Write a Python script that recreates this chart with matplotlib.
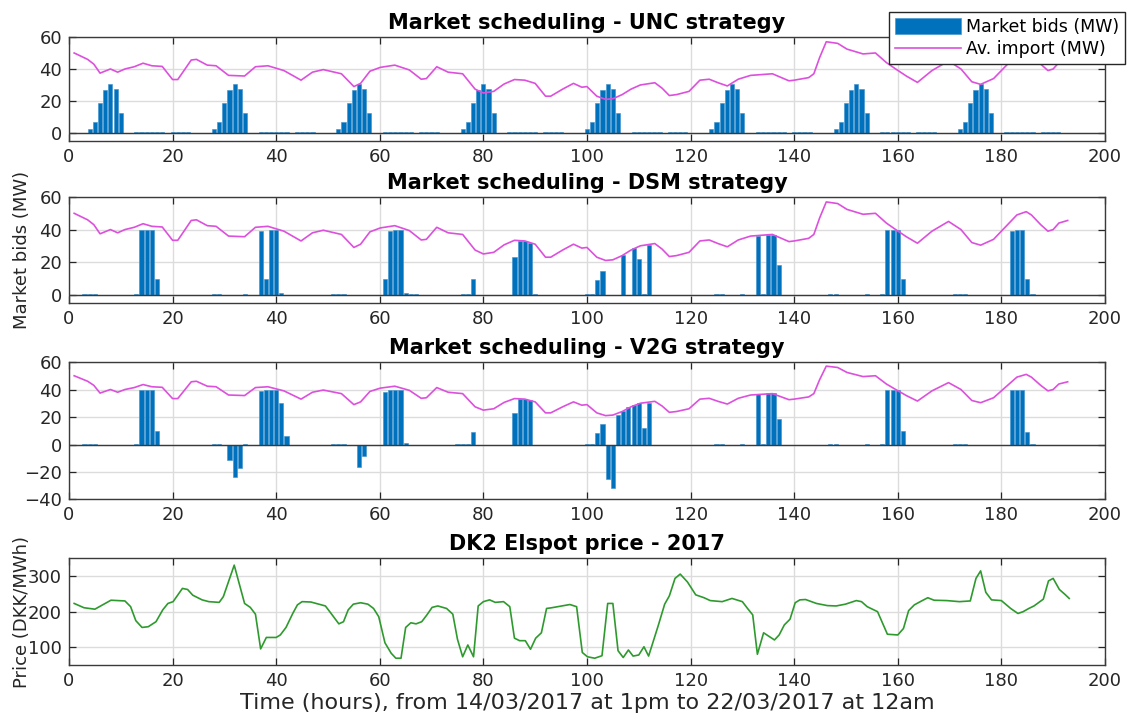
import matplotlib
matplotlib.use("Agg")
import matplotlib.pyplot as plt

# ---- data ------------------------------------------------------------------
# average import line (MW), same in the three scheduling panels
import_hours = [1, 3.6, 4.8, 6, 8, 9.4, 10.8, 12.6, 14.3, 16, 18, 20, 21, 22.2, 23.6,
                24.6, 26.7, 28.4, 30.8, 33.9, 36, 38.4, 41.5, 44.8, 47, 49.1, 52.6, 55,
                56.3, 58.1, 60.1, 62.9, 65.7, 68, 69, 71, 73.2, 76, 78.4, 80, 82, 84, 86,
                88, 90, 92, 93, 95.3, 97.4, 99, 100, 101.9, 103.6, 105, 106.8, 108.5,
                110.3, 113.1, 114.5, 115.9, 117.3, 119.7, 121.8, 123.6, 125.3, 127.1,
                129.2, 131.6, 135.8, 139, 140, 142.8, 143.8, 144.9, 146.2, 148.4, 150.2,
                153.3, 155.7, 157.8, 159.6, 161.7, 163.8, 166.6, 169.8, 172.2, 174.3,
                176, 178.5, 180.9, 183, 184.8, 185.8, 187.6, 189, 190, 191.1, 192.8]
import_mw = [50, 46, 43, 37.4, 40, 38, 40, 41.4, 43.6, 42, 41.6, 33.4, 33.4, 39, 45.6,
             46, 42.4, 42, 36, 35.6, 41.4, 42, 39, 33, 38, 39.6, 37, 29,
             31, 38.6, 41, 42.4, 39.4, 33.6, 34, 41.4, 38, 37, 27.4, 25, 26, 30.6, 33.4,
             33, 31, 23, 23, 27.4, 31, 28.6, 29, 23, 21, 21.4, 24, 27.4,
             30, 31.4, 28, 23.4, 24, 26, 33, 33.6, 31.4, 29.4,
             33.6, 36, 37, 32.6, 33, 34.6, 37, 47, 57, 56, 52.4,
             49.4, 50, 44, 40, 35.5, 31.6, 39, 45, 40, 32,
             30.4, 34, 42, 49, 51, 49, 43, 39, 40, 44, 45.6]

# UNC strategy bids (MW)
unc_hours = [4, 5, 6, 7, 8, 9, 10, 13, 14, 15, 16, 17, 18, 20, 21, 22, 23,
             28, 29, 30, 31, 32, 33, 34, 37, 38, 39, 40, 41, 42, 44, 45, 46, 47,
             52, 53, 54, 55, 56, 57, 58, 61, 62, 63, 64, 65, 66, 68, 69, 70, 71,
             76, 77, 78, 79, 80, 81, 82, 85, 86, 87, 88, 89, 90, 92, 93, 94, 95,
             100, 101, 102, 103, 104, 105, 106, 109, 110, 111, 112, 113, 114, 116, 117, 118, 119,
             124, 125, 126, 127, 128, 129, 130, 133, 134, 135, 136, 137, 138, 140, 141, 142, 143,
             148, 149, 150, 151, 152, 153, 154, 157, 158, 159, 160, 161, 162, 164, 165, 166, 167,
             172, 173, 174, 175, 176, 177, 178, 181, 182, 183, 184, 185, 186, 188, 189, 190, 191]
unc_bids = [2.5, 7, 18.5, 27, 30.5, 27.5, 12.5, 0.6, 0.8, 0.8, 0.7, 0.6, 0.5, 0.6, 0.8, 0.8, 0.6,
            2.5, 7, 18.5, 27, 30.5, 27.5, 12.5, 0.6, 0.8, 0.8, 0.7, 0.6, 0.5, 0.6, 0.8, 0.8, 0.6,
            2.5, 7, 18.5, 27, 30.5, 27.5, 12.5, 0.6, 0.8, 0.8, 0.7, 0.6, 0.5, 0.6, 0.8, 0.8, 0.6,
            2.5, 7, 18.5, 27, 30.5, 27.5, 12.5, 0.6, 0.8, 0.8, 0.7, 0.6, 0.5, 0.6, 0.8, 0.8, 0.6,
            2.5, 7, 18.5, 27, 30.5, 27.5, 12.5, 0.6, 0.8, 0.8, 0.7, 0.6, 0.5, 0.6, 0.8, 0.8, 0.6,
            2.5, 7, 18.5, 27, 30.5, 27.5, 12.5, 0.6, 0.8, 0.8, 0.7, 0.6, 0.5, 0.6, 0.8, 0.8, 0.6,
            2.5, 7, 18.5, 27, 30.5, 27.5, 12.5, 0.6, 0.8, 0.8, 0.7, 0.6, 0.5, 0.6, 0.8, 0.8, 0.6,
            2.5, 7, 18.5, 27, 30.5, 27.5, 12.5, 0.6, 0.8, 0.8, 0.7, 0.6, 0.5, 0.6, 0.8, 0.8, 0.6]

# DSM strategy bids (MW)
dsm_hours = [3, 4, 5, 13, 14, 15, 16, 17, 28, 29, 34, 37, 38, 39, 40, 41, 51, 52, 53,
             61, 62, 63, 64, 65, 66, 67, 76, 77, 78, 86, 87, 88, 89, 90,
             100, 101, 102, 103, 107, 109, 110, 111, 112, 125, 126, 130,
             133, 134, 135, 136, 137, 147, 148, 154, 157, 158, 159, 160, 161,
             171, 172, 173, 182, 183, 184, 185, 186]
dsm_bids = [0.6, 0.6, 0.6, 0.3, 40, 40, 39.5, 9.7, 0.6, 0.6, 0.5, 39, 9.7, 40, 39.5, 0.8, 0.6, 0.6, 0.5,
            9.3, 39, 40, 40, 0.8, 0.3, 0.3, 0.4, 0.6, 9.3, 23, 33, 33, 32, 0.3,
            0.5, 0.5, 8.7, 14.8, 24.5, 28.9, 21.6, 0.6, 30.7, 0.5, 0.5, 0.4,
            36, 0.6, 36.7, 36.7, 18, 0.5, 0.5, 0.4, 0.4, 40, 40, 39.5, 9.7,
            0.5, 0.6, 0.5, 39, 40, 40, 9.7, 0.6]

# V2G strategy bids (MW), negative = selling back
v2g_hours = [3, 4, 5, 13, 14, 15, 16, 17, 28, 29, 31, 32, 33, 34,
             37, 38, 39, 40, 41, 42, 51, 52, 53, 56, 57,
             61, 62, 63, 64, 65, 75, 76, 77, 78, 86, 87, 88, 89,
             100, 101, 102, 103, 104, 105, 106, 107, 108, 109, 110, 111, 112,
             125, 126, 130, 133, 134, 135, 136, 137, 147, 148, 154,
             157, 158, 159, 160, 161, 171, 172, 173, 182, 183, 184, 185, 186]
v2g_bids = [0.6, 0.6, 0.6, 0.3, 40, 40, 39.5, 9.8, 0.6, 0.6, -11.5, -23.7, -17, 0.5,
            39, 39.5, 40, 40, 30, 6, 0.5, 0.5, 0.5, -16.3, -8,
            38.5, 40, 40, 40, 0.8, 0.4, 0.6, 0.6, 9, 22.7, 33.4, 33.4, 32.4,
            0.5, 0.5, 8.5, 14.6, -24.8, -32, 21.5, 24.5, 27, 29, 30, 11.7, 30,
            0.5, 0.5, 0.4, 36.6, 0.6, 37.3, 37.3, 18.3, 0.5, 0.5, 0.4,
            0.4, 40, 40, 40, 9.8, 0.5, 0.5, 0.5, 39.5, 40, 40, 9.3, 0.6]

# DK2 Elspot price (DKK/MWh)
price_hours = [1, 2.9, 5, 7, 8.1, 10.8, 11.9, 12.9, 14.1, 15.3, 16.8, 18.1, 19.1, 20.1,
               21.9, 22.9, 23.9, 25.7, 27, 29, 29.8, 31.9, 33.9, 35, 36, 37, 38.1, 40,
               40.8, 41.9, 43.2, 44.1, 45, 46.7, 49.5, 50.5, 52.1, 53, 53.9, 54.9, 56.3,
               57.7, 58.8, 59.8, 61, 62.2, 63.1, 64.1, 65, 66, 67, 68.1, 69.1, 70.1, 71.2,
               72.9, 74.1, 75, 76, 77, 78.1, 79, 80, 81.2, 82.3, 83.9, 85.1, 86, 87, 88.1,
               89.1, 90.1, 91.2, 92.2, 93.2, 96.7, 98, 99.1, 100.1, 101.5, 102.9, 104, 105,
               106, 107, 108, 108.9, 110, 111, 111.9, 113.8, 115, 115.9, 117, 118, 119.4,
               121, 122.6, 123.8, 126.1, 128, 130, 131, 132, 132.9, 134.1, 136.2, 137.1,
               138.1, 139.2, 140.2, 141.1, 142.2, 144.3, 146.4, 148.1, 149.9, 152, 153,
               154.1, 156.1, 158, 160, 161.1, 162.1, 163.2, 164.6, 165.8, 167, 169.5,
               171.9, 174, 175.1, 176, 177, 178.1, 180, 181.8, 183.2, 184.2, 185.3, 186.3,
               188.1, 189.1, 190, 191.2, 192.3, 193.1]
price_dkk = [223, 211, 207, 223, 232, 230, 214, 175, 156, 158, 172, 205, 223, 228,
             265, 262, 246, 233, 228, 226, 242, 330, 223, 212, 193, 96, 128, 128,
             135, 156, 195, 219, 228, 227, 216, 197, 166, 172, 205, 221, 225,
             221, 209, 186, 113, 84, 70, 70, 156, 169, 166, 172, 191, 212, 216,
             209, 193, 123, 74, 107, 74, 216, 228, 233, 226, 228, 214, 126, 119, 119,
             95, 126, 141, 209, 211, 220, 214, 86, 74, 70, 77, 223, 223,
             91, 72, 93, 76, 79, 102, 76, 163, 221, 244, 293, 305, 283,
             247, 239, 231, 228, 237, 228, 209, 191, 81, 141, 121, 135,
             163, 179, 225, 233, 234, 223, 217, 216, 221, 231, 228,
             214, 200, 137, 135, 153, 203, 219, 230, 239, 232, 231,
             228, 230, 293, 314, 254, 233, 231, 209, 195, 200, 209, 216,
             235, 286, 293, 262, 248, 237]

# ---- styling ---------------------------------------------------------------
BAR_BLUE = "#0072BD"
IMPORT_PINK = "#DD50DD"
PRICE_GREEN = "#2E9A2E"
AX_GRAY = "#262626"
plt.rcParams["font.family"] = ["DejaVu Sans"]

fig = plt.figure(figsize=(11.29, 7.15), dpi=100)
left, width = 0.0611, 0.9176
ax_unc = fig.add_axes([left, 0.8028, width, 0.1455])
ax_dsm = fig.add_axes([left, 0.5766, width, 0.1478])
ax_v2g = fig.add_axes([left, 0.3014, width, 0.1923])
ax_pr = fig.add_axes([left, 0.0694, width, 0.1502])


def style_axes(ax, title):
    ax.set_xlim(0, 200)
    ax.set_xticks(range(0, 201, 20))
    ax.grid(True, color="#dcdcdc", linewidth=1.0)
    ax.set_axisbelow(True)
    ax.tick_params(direction="in", top=True, right=True, length=5, width=0.9,
                   labelsize=13, colors=AX_GRAY, pad=5)
    for sp in ax.spines.values():
        sp.set_color("#3a3a3a")
        sp.set_linewidth(1.0)
    ax.set_title(title, fontsize=15, fontweight="bold", pad=6)


def bid_panel(ax, hours, bids, title, ylim, yticks):
    bars = ax.bar(hours, bids, width=0.8, color=BAR_BLUE, edgecolor="#3d8fcc",
                  linewidth=0.4, zorder=2)
    ax.axhline(0, color="#3a3a3a", linewidth=1.0, zorder=2.5)
    line, = ax.plot(import_hours, import_mw, color=IMPORT_PINK, linewidth=1.2, zorder=3)
    ax.set_ylim(*ylim)
    ax.set_yticks(yticks)
    style_axes(ax, title)
    return bars, line


bars, line = bid_panel(ax_unc, unc_hours, unc_bids, "Market scheduling - UNC strategy",
                       (-5, 60), [0, 20, 40, 60])
bid_panel(ax_dsm, dsm_hours, dsm_bids, "Market scheduling - DSM strategy",
          (-5, 60), [0, 20, 40, 60])
bid_panel(ax_v2g, v2g_hours, v2g_bids, "Market scheduling - V2G strategy",
          (-40, 60), [-40, -20, 0, 20, 40, 60])
ax_dsm.set_ylabel("Market bids (MW)", fontsize=13, color=AX_GRAY)
ax_dsm.yaxis.set_label_coords(-0.037, 0.5)

ax_pr.plot(price_hours, price_dkk, color=PRICE_GREEN, linewidth=1.2, zorder=3)
ax_pr.set_ylim(50, 350)
ax_pr.set_yticks([100, 200, 300])
style_axes(ax_pr, "DK2 Elspot price - 2017")
ax_pr.set_ylabel("Price (DKK/MWh)", fontsize=13, color=AX_GRAY)
ax_pr.yaxis.set_label_coords(-0.037, 0.5)
ax_pr.set_xlabel("Time (hours), from 14/03/2017 at 1pm to 22/03/2017 at 12am",
                 fontsize=16, color=AX_GRAY, labelpad=2)

leg = ax_unc.legend([bars, line], ["Market bids (MW)", "Av. import (MW)"],
                    loc="upper right", bbox_to_anchor=(1125 / 1129, 1 - 12 / 715),
                    bbox_transform=fig.transFigure, borderaxespad=0, fontsize=12.5,
                    handlelength=3.8, handleheight=1.0, handletextpad=0.3,
                    borderpad=0.35, labelspacing=0.25, fancybox=False, framealpha=1)
leg.get_frame().set_edgecolor("#262626")
leg.get_frame().set_linewidth(1.0)
leg.set_zorder(10)

fig.savefig("out.png", dpi=100)
